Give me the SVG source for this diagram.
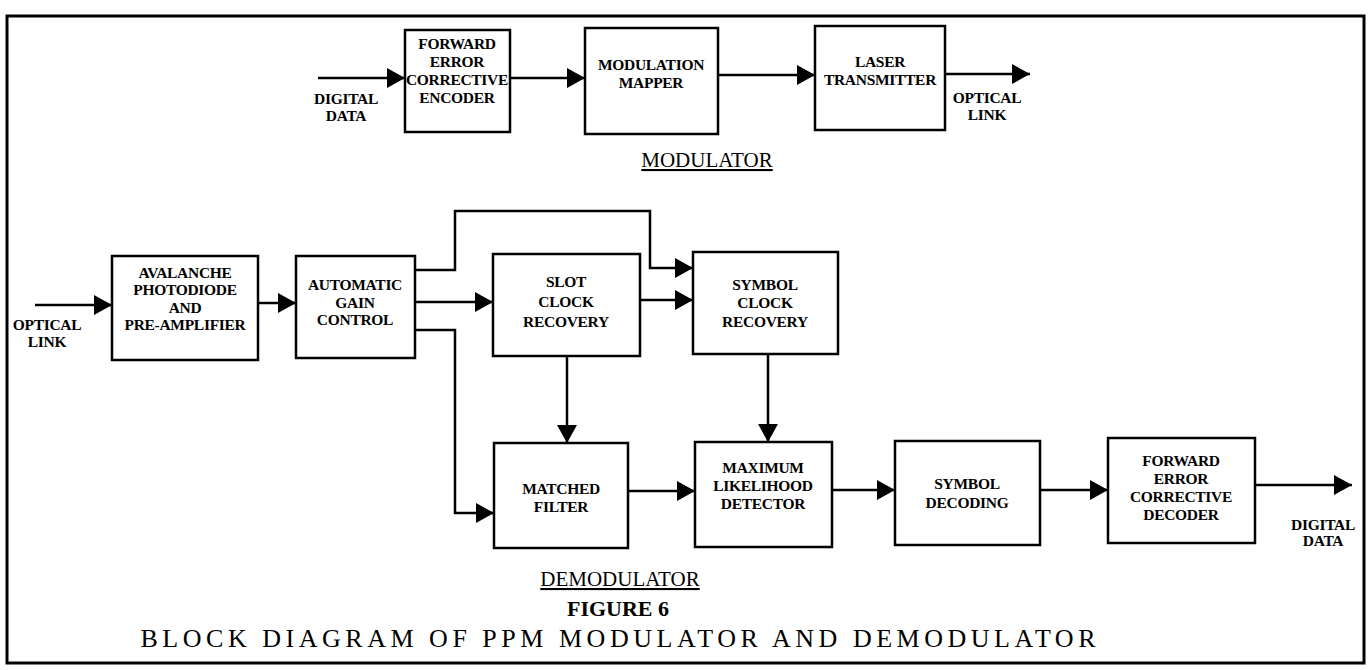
<svg xmlns="http://www.w3.org/2000/svg" width="1370" height="670" viewBox="0 0 1370 670">
<defs>
<marker id="ah" markerUnits="userSpaceOnUse" markerWidth="20" markerHeight="22" refX="18" refY="10" orient="auto">
<path d="M0,0 L18,10 L0,20 z" fill="#000"/>
</marker>
<style>
.box{fill:#fff;stroke:#000;stroke-width:2.5}
.lbl{font-family:"Liberation Serif",serif;font-weight:bold;font-size:15.5px;letter-spacing:-0.3px;text-anchor:middle;fill:#000}
.con{fill:none;stroke:#000;stroke-width:2.5}
.arr{marker-end:url(#ah)}
.ttl{font-family:"Liberation Serif",serif;font-size:21px;text-anchor:middle;fill:#000;text-decoration:underline}
</style>
</defs>
<rect width="1370" height="670" fill="#fff"/>
<rect x="7" y="16" width="1357" height="647" fill="none" stroke="#000" stroke-width="3"/>

<g id="connectors">
<line class="con arr" x1="318" y1="78" x2="405" y2="78"/>
<line class="con arr" x1="510" y1="78" x2="585" y2="78"/>
<line class="con arr" x1="718" y1="75" x2="815" y2="75"/>
<line class="con arr" x1="945" y1="74" x2="1030" y2="74"/>
<line class="con arr" x1="35" y1="305" x2="112" y2="305"/>
<line class="con arr" x1="258" y1="303" x2="296" y2="303"/>
<polyline class="con arr" points="415,270 455,270 455,211 650,211 650,268 693,268"/>
<line class="con arr" x1="415" y1="302" x2="493" y2="302"/>
<polyline class="con arr" points="415,330 455,330 455,513 494,513"/>
<line class="con arr" x1="640" y1="300" x2="693" y2="300"/>
<line class="con arr" x1="567" y1="356" x2="567" y2="443"/>
<line class="con arr" x1="768" y1="354" x2="768" y2="442"/>
<line class="con arr" x1="628" y1="491" x2="695" y2="491"/>
<line class="con arr" x1="832" y1="490" x2="895" y2="490"/>
<line class="con arr" x1="1040" y1="490" x2="1108" y2="490"/>
<line class="con arr" x1="1255" y1="485" x2="1352" y2="485"/>
</g>

<g id="fec-encoder">
<rect class="box" x="405" y="30" width="105" height="102"/>
<text class="lbl" x="457" y="49">FORWARD</text>
<text class="lbl" x="457" y="67">ERROR</text>
<text class="lbl" x="457" y="85">CORRECTIVE</text>
<text class="lbl" x="457" y="103">ENCODER</text>
</g>
<g id="modulation-mapper">
<rect class="box" x="585" y="28" width="133" height="106"/>
<text class="lbl" x="651" y="70">MODULATION</text>
<text class="lbl" x="651" y="88">MAPPER</text>
</g>
<g id="laser-transmitter">
<rect class="box" x="815" y="26" width="130" height="104"/>
<text class="lbl" x="880" y="67">LASER</text>
<text class="lbl" x="880" y="85">TRANSMITTER</text>
</g>
<g id="in-digital-data">
<text class="lbl" x="346" y="104">DIGITAL</text>
<text class="lbl" x="346" y="121">DATA</text>
</g>
<g id="out-optical-link">
<text class="lbl" x="987" y="103">OPTICAL</text>
<text class="lbl" x="987" y="120">LINK</text>
</g>
<g id="modulator-title">
<text class="ttl" x="707" y="167">MODULATOR</text>
</g>

<g id="in-optical-link">
<text class="lbl" x="47" y="330">OPTICAL</text>
<text class="lbl" x="47" y="347">LINK</text>
</g>
<g id="apd">
<rect class="box" x="112" y="256" width="146" height="104"/>
<text class="lbl" x="185" y="278">AVALANCHE</text>
<text class="lbl" x="185" y="295">PHOTODIODE</text>
<text class="lbl" x="185" y="313">AND</text>
<text class="lbl" x="185" y="330">PRE-AMPLIFIER</text>
</g>
<g id="agc">
<rect class="box" x="296" y="256" width="119" height="102"/>
<text class="lbl" x="355" y="290">AUTOMATIC</text>
<text class="lbl" x="355" y="308">GAIN</text>
<text class="lbl" x="355" y="325">CONTROL</text>
</g>
<g id="slot-clock">
<rect class="box" x="493" y="254" width="147" height="102"/>
<text class="lbl" x="566" y="287">SLOT</text>
<text class="lbl" x="566" y="307">CLOCK</text>
<text class="lbl" x="566" y="327">RECOVERY</text>
</g>
<g id="symbol-clock">
<rect class="box" x="693" y="252" width="145" height="102"/>
<text class="lbl" x="765" y="290">SYMBOL</text>
<text class="lbl" x="765" y="308">CLOCK</text>
<text class="lbl" x="765" y="327">RECOVERY</text>
</g>
<g id="matched-filter">
<rect class="box" x="494" y="443" width="134" height="105"/>
<text class="lbl" x="561" y="494">MATCHED</text>
<text class="lbl" x="561" y="512">FILTER</text>
</g>
<g id="ml-detector">
<rect class="box" x="695" y="442" width="137" height="105"/>
<text class="lbl" x="763" y="473">MAXIMUM</text>
<text class="lbl" x="763" y="491">LIKELIHOOD</text>
<text class="lbl" x="763" y="509">DETECTOR</text>
</g>
<g id="symbol-decoding">
<rect class="box" x="895" y="441" width="145" height="104"/>
<text class="lbl" x="967" y="489">SYMBOL</text>
<text class="lbl" x="967" y="508">DECODING</text>
</g>
<g id="fec-decoder">
<rect class="box" x="1108" y="438" width="147" height="105"/>
<text class="lbl" x="1181" y="466">FORWARD</text>
<text class="lbl" x="1181" y="484">ERROR</text>
<text class="lbl" x="1181" y="502">CORRECTIVE</text>
<text class="lbl" x="1181" y="520">DECODER</text>
</g>
<g id="out-digital-data">
<text class="lbl" x="1323" y="530">DIGITAL</text>
<text class="lbl" x="1323" y="546">DATA</text>
</g>
<g id="demodulator-title">
<text class="ttl" x="620" y="586">DEMODULATOR</text>
</g>
<g id="caption">
<text x="618" y="616" font-family="Liberation Serif, serif" font-weight="bold" font-size="22" text-anchor="middle">FIGURE 6</text>
<text x="618" y="647" font-family="Liberation Serif, serif" font-size="26" text-anchor="middle" textLength="955" lengthAdjust="spacing">BLOCK DIAGRAM OF PPM MODULATOR AND DEMODULATOR</text>
</g>
</svg>
